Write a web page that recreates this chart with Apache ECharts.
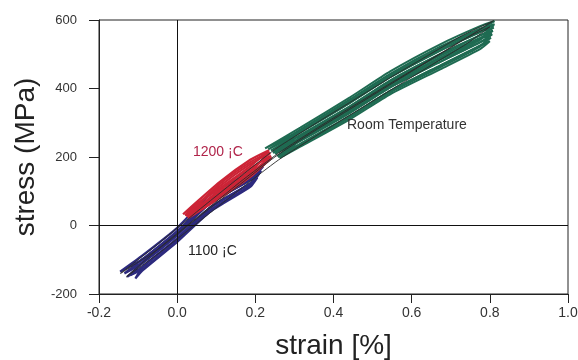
<!DOCTYPE html>
<html>
<head>
<meta charset="utf-8">
<script src="https://cdn.jsdelivr.net/npm/echarts@6/dist/echarts.min.js"></script>
<style>html,body{margin:0;padding:0;background:#fff}#c{width:578px;height:360px}</style>
</head>
<body>
<div id="c"></div>
<script>
// Axis settings
const xRange = [-0.2, 1.0, 0.2];
const yRange = [-200, 600, 200];
const xTitle = 'strain [%]';
const yTitle = 'stress (MPa)';
const labels = ['1200 ¡C', '1100 ¡C', 'Room Temperature'];

// Hysteresis loops: [strain %, stress MPa]
const blackLoops = [
  [[-0.145,-140],[-0.05,-70],[0.05,20],[0.15,110],[0.25,200],[0.35,275],[0.45,345],[0.55,415],[0.65,485],[0.73,540],[0.81,598],
   [0.73,555],[0.65,502],[0.55,435],[0.45,365],[0.35,295],[0.25,222],[0.15,132],[0.05,40],[-0.05,-55],[-0.145,-140]],
  [[-0.13,-150],[-0.04,-75],[0.06,15],[0.16,105],[0.26,192],[0.36,265],[0.46,335],[0.56,405],[0.66,475],[0.74,530],[0.80,580],
   [0.74,548],[0.66,493],[0.56,425],[0.46,356],[0.36,286],[0.26,212],[0.16,126],[0.06,32],[-0.04,-60],[-0.13,-150]]
];
const blueLoops = [
  [[-0.146,-135],[-0.087,-97],[0,-17],[0.084,77],[0.187,144],[0.222,178],[0.187,154],[0.084,90],[0,-7],[-0.087,-86],[-0.146,-135]],
  [[-0.128,-150],[-0.087,-119],[0,-38],[0.084,52],[0.187,123],[0.215,160],[0.187,133],[0.084,65],[0,-28],[-0.087,-108],[-0.128,-150]],
  [[-0.107,-155],[-0.087,-130],[0,-48],[0.084,40],[0.187,113],[0.205,140],[0.187,123],[0.084,52],[0,-38],[-0.087,-119],[-0.107,-155]],
  [[-0.135,-140],[-0.087,-108],[0,-28],[0.084,65],[0.187,133],[0.220,172],[0.187,144],[0.084,77],[0,-17],[-0.087,-97],[-0.135,-140]],
  [[-0.120,-145],[-0.087,-126],[0,-44],[0.084,45],[0.187,117],[0.212,155],[0.187,137],[0.084,70],[0,-24],[-0.087,-104],[-0.120,-145]]
];
const redLoops = [
  [[0.028,22],[0.110,81],[0.187,142],[0.242,198],[0.187,154],[0.110,93],[0.028,22]],
  [[0.025,26],[0.110,87],[0.187,148],[0.240,204],[0.187,167],[0.110,105],[0.025,26]],
  [[0.020,30],[0.110,99],[0.187,160],[0.238,212],[0.187,179],[0.110,116],[0.020,30]],
  [[0.015,33],[0.110,110],[0.187,173],[0.235,220],[0.187,192],[0.110,128],[0.015,33]],
  [[0.022,28],[0.110,93],[0.187,156],[0.236,215],[0.187,185],[0.110,122],[0.022,28]]
];
const greenLoops = [
  [[0.262,197],[0.315,230],[0.442,310],[0.545,383],[0.673,456],[0.775,515],[0.800,538],[0.775,525],[0.673,467],[0.545,393],[0.442,320],[0.315,238],[0.262,197]],
  [[0.256,203],[0.315,238],[0.442,320],[0.545,393],[0.673,467],[0.775,525],[0.803,548],[0.775,535],[0.673,478],[0.545,403],[0.442,329],[0.315,247],[0.256,203]],
  [[0.250,209],[0.315,247],[0.442,329],[0.545,403],[0.673,478],[0.775,535],[0.806,558],[0.775,545],[0.673,489],[0.545,413],[0.442,339],[0.315,255],[0.250,209]],
  [[0.245,214],[0.315,255],[0.442,339],[0.545,413],[0.673,489],[0.775,545],[0.808,568],[0.775,555],[0.673,500],[0.545,423],[0.442,348],[0.315,264],[0.245,214]],
  [[0.240,219],[0.315,264],[0.442,348],[0.545,423],[0.673,500],[0.775,555],[0.810,578],[0.775,565],[0.673,511],[0.545,433],[0.442,358],[0.315,272],[0.240,219]],
  [[0.233,222],[0.315,272],[0.442,358],[0.545,433],[0.673,511],[0.775,565],[0.812,588],[0.775,575],[0.673,522],[0.545,443],[0.442,368],[0.315,280],[0.233,222]],
  [[0.225,225],[0.315,276],[0.442,363],[0.545,438],[0.673,517],[0.775,572],[0.812,597],[0.775,582],[0.673,529],[0.545,450],[0.442,374],[0.315,286],[0.225,225]],
  [[0.258,200],[0.315,234],[0.442,315],[0.545,388],[0.673,462],[0.775,522],[0.805,560],[0.775,548],[0.673,495],[0.545,418],[0.442,343],[0.315,259],[0.258,200]],
  [[0.245,212],[0.315,251],[0.442,334],[0.545,408],[0.673,484],[0.775,542],[0.810,585],[0.775,572],[0.673,517],[0.545,438],[0.442,363],[0.315,276],[0.245,212]]
];

const colors = {black:'#2a2a2a', blue:'#2d2a7e', red:'#cc2436', green:'#1f6b52'};
const FONT = 'Liberation Sans, Arial, sans-serif';

function loopSeries(loops, color, width, z) {
  return loops.map(d => ({
    type: 'line', data: d, showSymbol: false, symbol: 'none', smooth: 0.2,
    lineStyle: {color: color, width: width}, z: z, silent: true
  }));
}

const series = [].concat(
  loopSeries(blueLoops, colors.blue, 2.2, 2),
  loopSeries(redLoops, colors.red, 2.2, 3),
  loopSeries(greenLoops, colors.green, 2.0, 3),
  loopSeries(blackLoops, colors.black, 0.9, 4)
);
series.push({
  type: 'line', data: [], silent: true, z: 1,
  markLine: {silent: true, symbol: 'none', animation: false, label: {show: false},
    lineStyle: {color: '#111', width: 1, type: 'solid'},
    data: [{xAxis: 0}, {yAxis: 0}]}
});

const chart = echarts.init(document.getElementById('c'), null, {renderer: 'canvas'});
chart.setOption({
  animation: false,
  backgroundColor: '#fff',
  grid: {left: 99, right: 10, top: 20, bottom: 66, outerBoundsMode: 'none', containLabel: false,
    show: true, borderColor: '#222', borderWidth: 1, backgroundColor: 'transparent'},
  xAxis: {
    type: 'value', min: xRange[0], max: xRange[1], interval: xRange[2],
    axisLine: {show: true, onZero: false, lineStyle: {color: '#222', width: 1}},
    axisTick: {show: true, length: 9, lineStyle: {color: '#222'}},
    axisLabel: {formatter: v => v.toFixed(1), fontSize: 14, color: '#333', margin: 12, fontFamily: FONT},
    splitLine: {show: false},
    name: xTitle, nameLocation: 'middle', nameGap: 38,
    nameTextStyle: {fontSize: 28, color: '#222', fontFamily: FONT}
  },
  yAxis: {
    type: 'value', min: yRange[0], max: yRange[1], interval: yRange[2],
    axisLine: {show: true, onZero: false, lineStyle: {color: '#222', width: 1}},
    axisTick: {show: true, length: 10, lineStyle: {color: '#222'}},
    axisLabel: {fontSize: 13, color: '#333', margin: 22, fontFamily: FONT},
    splitLine: {show: false},
    name: yTitle, nameLocation: 'middle', nameGap: 56, nameRotate: 90,
    nameTextStyle: {fontSize: 28, color: '#222', fontFamily: FONT}
  },
  graphic: [
    {type: 'text', left: 193, top: 145, z: 10, style: {text: labels[0], fontSize: 14, fill: '#b0244a', fontFamily: FONT}},
    {type: 'text', left: 188, top: 244, z: 10, style: {text: labels[1], fontSize: 14, fill: '#222', fontFamily: FONT}},
    {type: 'text', left: 347, top: 118, z: 10, style: {text: labels[2], fontSize: 14, fill: '#333', fontFamily: FONT}}
  ],
  series: series
});
</script>
</body>
</html>
